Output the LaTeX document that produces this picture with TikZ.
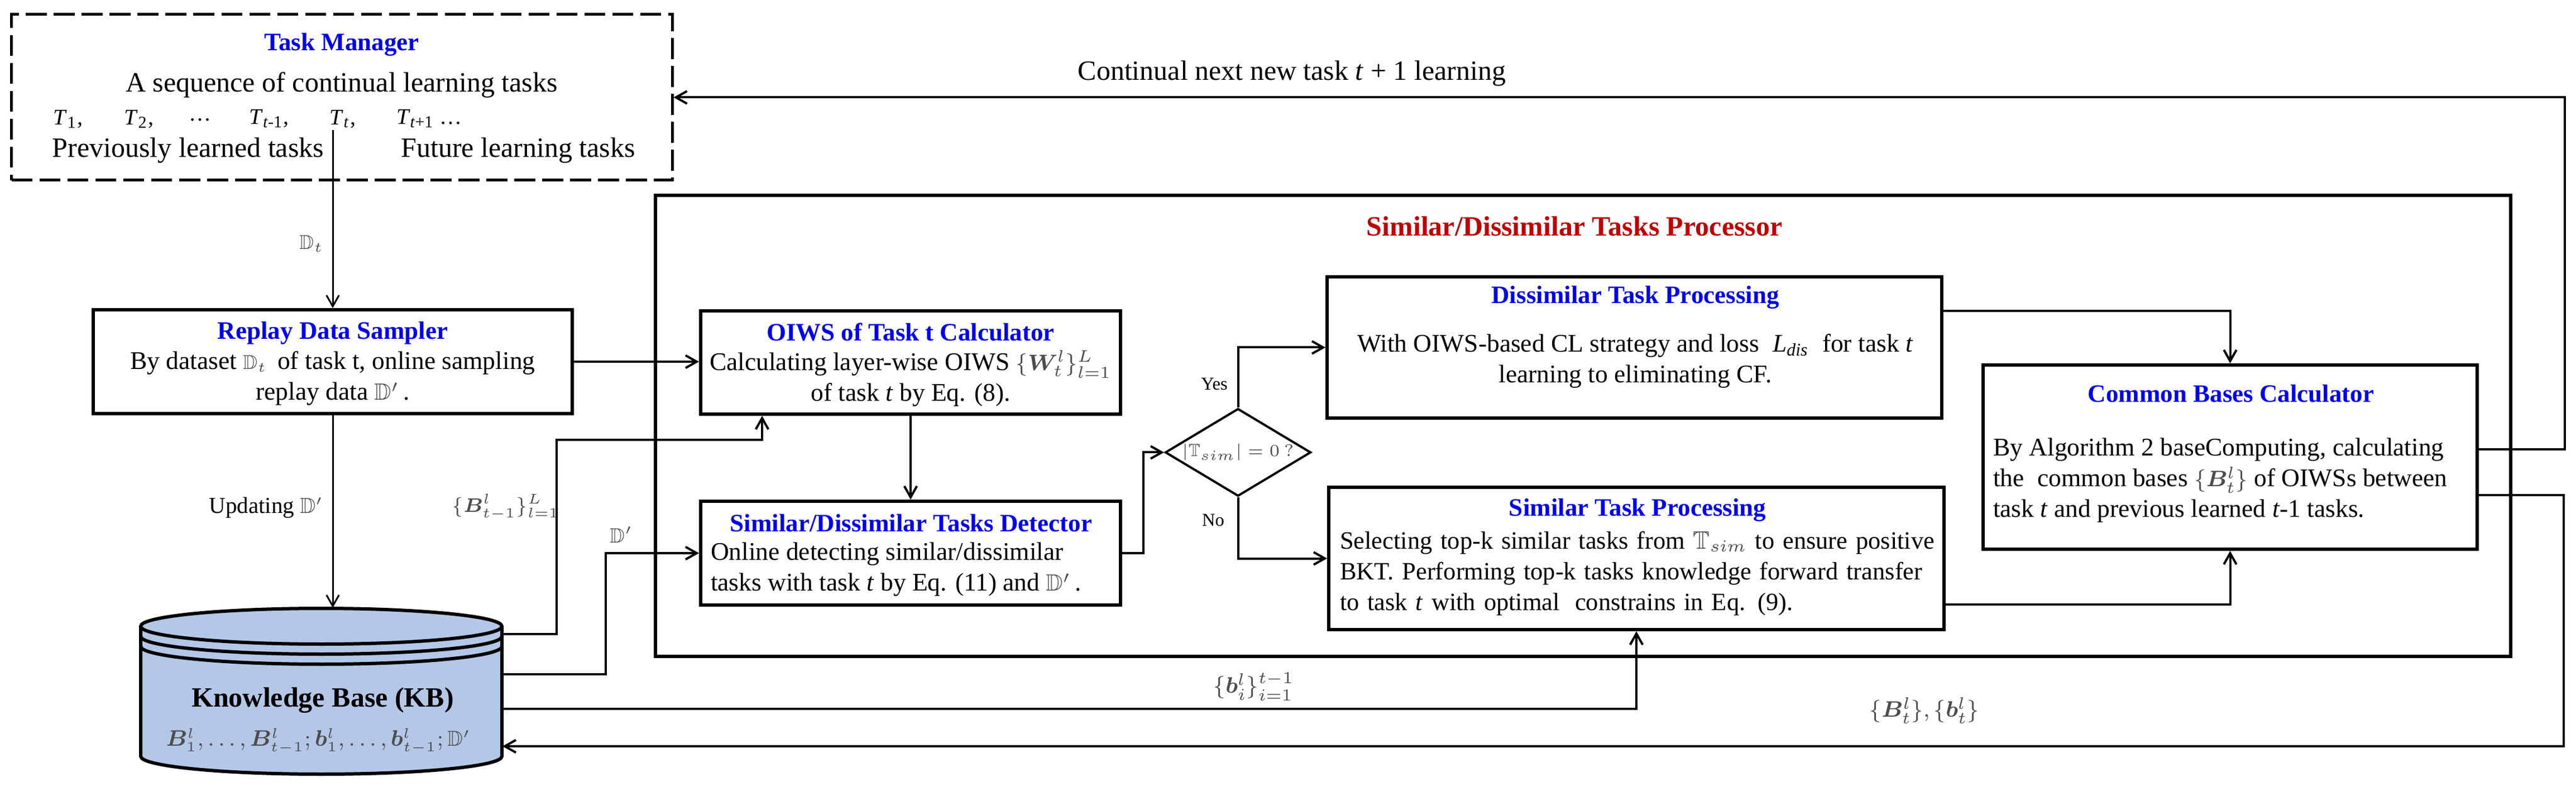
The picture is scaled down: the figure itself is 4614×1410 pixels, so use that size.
\documentclass[tikz,border=0pt]{standalone}
\usepackage{amsmath,amssymb,bm}
\usepackage[no-math]{fontspec}
\setmainfont{Liberation Serif}
\usetikzlibrary{arrows.meta,shapes.geometric,calc}

\definecolor{kbblue}{RGB}{180,199,231}
\definecolor{ttlblue}{RGB}{0,0,240}
\definecolor{procred}{RGB}{192,0,0}
\definecolor{mathgray}{gray}{0.3}
% grey math, as pasted formulas in the figure
\newcommand{\mth}[2][7.2]{{\fontsize{#1}{9}\selectfont\textcolor{mathgray}{$#2$}}}

\tikzset{
    box/.style={draw, line width=1.2pt, inner sep=0pt},
    conn/.style={line width=0.8pt, -{Straight Barb[length=4pt,width=4.5pt]}},
    thinconn/.style={line width=0.6pt, -{Straight Barb[length=4pt,width=4.5pt]}},
    ttl/.style={font=\fontsize{9}{11}\selectfont\bfseries, text=ttlblue, inner sep=0pt},
    txt/.style={font=\fontsize{10}{11}\selectfont, inner sep=0pt},
    boxtxt/.style={font=\fontsize{9.1}{11}\selectfont, inner sep=0pt},
    lbl/.style={inner sep=0pt},
    small/.style={font=\fontsize{6.5}{8}\selectfont, inner sep=0pt},
    trow/.style={font=\fontsize{8}{10}\selectfont, inner sep=0pt},
}

\begin{document}
\begin{tikzpicture}[x=0.2pt,y=0.2pt,yscale=-1,xscale=1]
    \useasboundingbox (0,0) rectangle (4614,1410);

    % Task Manager
    \node [draw, line width=1pt, dash pattern={on 7.5pt off 2.5pt}, inner sep=0pt,
           minimum width=236.6pt, minimum height=59.4pt] (taskmgr) at (612.5,174.5) {};
    \node [ttl] (tmtitle) at (612,80) {Task Manager};
    \node [txt] (tmseq) at (612,152) {A sequence of continual learning tasks};
    \node [trow] (t1) at (122,213) {\textit{T}\textsubscript{1},};
    \node [trow] (t2) at (249,213) {\textit{T}\textsubscript{2},};
    \node [trow] (tdots) at (358,215) {\dots};
    \node [trow] (tprev) at (482,213) {\textit{T}\textsubscript{\textit{t}-1},};
    \node [trow] (tt) at (614,213) {\textit{T}\textsubscript{\textit{t}},};
    \node [trow] (tnext) at (769,213) {\textit{T}\textsubscript{\textit{t}+1} \dots};
    \node [txt] (tmprev) at (337,270) {Previously learned tasks};
    \node [txt] (tmfut) at (928,270) {Future learning tasks};
    \coordinate (tdown) at (596,233);

    % Replay Data Sampler
    \node [box, minimum width=171.6pt, minimum height=37.2pt] (sampler) at (596,648) {};
    \node [ttl] (samptitle) at (596,597) {Replay Data Sampler};
    \node [boxtxt, align=center] (samptext) at (596,678) {By dataset \mth{\mathbb{D}_t}\, of task t, online sampling\\replay data \mth[8.4]{\mathbb{D}'}\,.};

    % Knowledge Base
    \node [inner sep=0pt, minimum width=129.4pt, minimum height=59.4pt] (kb) at (575.5,1238.5) {};
    \fill [kbblue] (252,1122) -- (252,1355) arc [start angle=180, end angle=0, x radius=323.5, y radius=32]
        -- (899,1122) arc [start angle=0, end angle=-180, x radius=323.5, y radius=32] -- cycle;
    \draw [line width=1.2pt] (252,1122) -- (252,1355) arc [start angle=180, end angle=0, x radius=323.5, y radius=32] -- (899,1122);
    \draw [line width=1.2pt] (575.5,1122) ellipse [x radius=323.5, y radius=32];
    \draw [line width=1.2pt] (252,1140) arc [start angle=180, end angle=0, x radius=323.5, y radius=32];
    \draw [line width=1.2pt] (252,1158) arc [start angle=180, end angle=0, x radius=323.5, y radius=32];
    \node [font=\fontsize{10}{12}\selectfont\bfseries, inner sep=0pt] (kbtitle) at (578,1255) {Knowledge Base (KB)};
    \node [inner sep=0pt] (kbdata) at (570,1328) {\mth[7.7]{\bm{B}_1^l,\ldots,\bm{B}_{t-1}^l;\bm{b}_1^l,\ldots,\bm{b}_{t-1}^l;\mathbb{D}'}};

    % Similar/Dissimilar Tasks Processor
    \node [box, minimum width=664.6pt, minimum height=165.2pt] (proc) at (2835.5,763) {};
    \node [font=\fontsize{10}{12}\selectfont\bfseries, text=procred, inner sep=0pt] (proctitle) at (2820,405) {Similar/Dissimilar Tasks Processor};

    % OIWS of Task t Calculator
    \node [box, minimum width=150.4pt, minimum height=37pt] (oiws) at (1631,649.5) {};
    \node [ttl] (oiwstitle) at (1631,595) {OIWS of Task t Calculator};
    \node [boxtxt, align=center] (oiwstext) at (1631,678) {Calculating layer-wise OIWS \mth[8.4]{\{\bm{W}_t^l\}_{l=1}^L}\\of task \textit{t} by Eq. (8).};

    % Similar/Dissimilar Tasks Detector
    \node [box, minimum width=150.4pt, minimum height=37.2pt] (detect) at (1631,991) {};
    \node [ttl] (dettitle) at (1632,937) {Similar/Dissimilar Tasks Detector};
    \node [boxtxt, align=left, anchor=west] (dettext) at (1272,1020) {Online detecting similar/dissimilar\\tasks with task \textit{t} by Eq. (11) and \mth[8.4]{\mathbb{D}'}\,.};

    % Decision
    \node [draw, diamond, line width=0.8pt, inner sep=0pt, aspect=1.66, minimum width=52.2pt, minimum height=31.4pt] (cond) at (2217.5,810.5) {\mth[6.3]{|\mathbb{T}_{sim}|=0\ ?}};
    \node [small] (yes) at (2175,688) {Yes};
    \node [small] (no) at (2173,932) {No};

    % Dissimilar Task Processing
    \node [box, minimum width=220.2pt, minimum height=50.6pt] (dissim) at (2927.5,622.5) {};
    \node [ttl] (distitle) at (2929,533) {Dissimilar Task Processing};
    \node [boxtxt, align=center] (distext) at (2929,647) {With OIWS-based CL strategy and loss\; \textit{L}\textsubscript{\textit{dis}}\; for task \textit{t}\\learning to eliminating CF.};

    % Similar Task Processing
    \node [box, minimum width=220.4pt, minimum height=51pt] (similar) at (2931,1000.5) {};
    \node [ttl] (simtitle) at (2933,914) {Similar Task Processing};
    \node [boxtxt, font=\fontsize{8.9}{11}\selectfont, text width=211pt, align=left] (simtext) at (2927.5,1028) {\makebox[\linewidth][s]{Selecting top-k similar tasks from \mth[9]{\mathbb{T}_{sim}} to ensure positive}\\\makebox[\linewidth][s]{BKT. Performing top-k tasks knowledge forward transfer}\\to task \textit{t} with optimal\; constrains in Eq. (9).};

    % Common Bases Calculator
    \node [box, minimum width=177pt, minimum height=66pt] (common) at (3994.5,819) {};
    \node [ttl] (comtitle) at (3996,705) {Common Bases Calculator};
    \node [boxtxt, align=left, anchor=west] (comtext) at (3569,861) {By Algorithm 2 baseComputing, calculating\\the\; common bases \mth[8.4]{\{\bm{B}_t^l\}} of OIWSs between\\task \textit{t} and previous learned \textit{t}-1 tasks.};

    % connectors
    \draw [thinconn] (tdown) -- (sampler.north);
    \node [lbl] (lbldt) at (558,437) {\mth{\mathbb{D}_t}};
    \draw [thinconn] (sampler.south) -- (sampler.south |- kb.north);
    \node [font=\fontsize{8.2}{10}\selectfont, inner sep=0pt, anchor=east] (lblupd) at (580,910) {Updating \mth[7.8]{\mathbb{D}'}};
    \draw [conn] (sampler.east) -- (sampler.east -| oiws.west);
    \draw [conn] ($(kb.north east)+(0,47)$) -| ($(oiws.south west)+(-255,43)$) -| ($(oiws.south west)+(113,0)$);
    \node [lbl] (lblB) at (906,908) {\mth[7.4]{\{\bm{B}_{t-1}^l\}_{l=1}^L}};
    \draw [conn] ($(kb.north east)+(0,119)$) -| ($(detect.west)+(-167,0)$) -- (detect.west);
    \node [lbl] (lbldp) at (1113,958) {\mth[7.4]{\mathbb{D}'}};
    \draw [conn] ($(kb.north east)+(0,181)$) -| (similar.south);
    \node [lbl] (lblb) at (2246,1230) {\mth[8]{\{\bm{b}_i^l\}_{i=1}^{t-1}}};
    \draw [conn] (oiws.south) -- (detect.north);
    \draw [conn] (detect.east) -| ($(cond.west)+(-37,0)$) -- (cond.west);
    \draw [conn] (cond.north) |- (dissim.west);
    \draw [conn] (cond.south) |- (similar.west);
    \draw [conn] ($(dissim.north east)+(0,64)$) -| (common.north);
    \draw [conn] ($(similar.south east)+(0,-48)$) -| (common.south);
    \draw [conn] ($(common.north east)+(0,154)$) -| ($(taskmgr.east)+(3387,0)$) -- (taskmgr.east);
    \node [txt] (lblnext) at (2314,132) {Continual next new task \textit{t} + 1 learning};
    \draw [conn] ($(common.north east)+(0,236)$) -| ($(kb.north east)+(3692,248)$) -- ($(kb.north east)+(0,248)$);
    \node [lbl] (lblBb) at (3447,1273) {\mth[7.9]{\{\bm{B}_t^l\},\{\bm{b}_t^l\}}};

\end{tikzpicture}
\end{document}
